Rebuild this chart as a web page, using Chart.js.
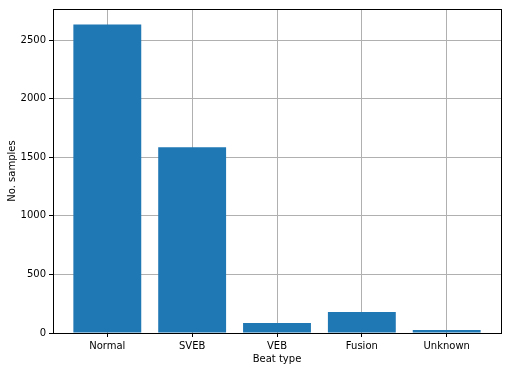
<!DOCTYPE html>
<html>
<head>
<meta charset="utf-8">
<script src="https://cdn.jsdelivr.net/npm/chart.js@4"></script>
<style>
  html, body { margin: 0; padding: 0; background: #fff; }
  #wrap { width: 507px; height: 371px; }
</style>
</head>
<body>
<div id="wrap"><canvas id="myChart"></canvas></div>
<script>
// data
var beatTypes = ['Normal', 'SVEB', 'VEB', 'Fusion', 'Unknown'];
var noSamples = [2634, 1585, 85, 179, 26];
var yTicks = [0, 500, 1000, 1500, 2000, 2500];

// box round the plot area, like matplotlib spines
var frame = {
    id: 'frame',
    afterDraw: function (chart) {
        var a = chart.chartArea, ctx = chart.ctx;
        ctx.save();
        ctx.strokeStyle = '#000';
        ctx.lineWidth = 1;
        ctx.strokeRect(Math.round(a.left) + 0.5, Math.round(a.top) + 0.5,
            Math.round(a.right - a.left), Math.round(a.bottom - a.top));
        ctx.restore();
    }
};

Chart.defaults.font.family = 'DejaVu Sans';
Chart.defaults.font.size = 10;
Chart.defaults.color = '#000';

var config = {
    type: 'bar',
    data: {
        datasets: [{
            label: 'No. samples',
            data: noSamples.map(function (v, i) { return { x: i, y: v }; }),
            backgroundColor: '#1f77b4',
            borderColor: '#1f77b4',
            borderWidth: 0,
            barPercentage: 0.8,
            categoryPercentage: 1
        }]
    },
    options: {
        responsive: true,
        maintainAspectRatio: false,
        animation: false,
        layout: { padding: { left: 6, top: 7, right: 6, bottom: 0 } },
        plugins: { legend: { display: false }, tooltip: { enabled: false } },
        scales: {
            x: {
                type: 'linear',
                min: -0.64,
                max: 4.64,
                offset: false,
                z: 1,
                afterBuildTicks: function (s) {
                    s.ticks = beatTypes.map(function (c, i) { return { value: i }; });
                },
                afterFit: function (s) { s.height = 38; },
                ticks: {
                    maxRotation: 0,
                    autoSkip: false,
                    padding: 3,
                    callback: function (v) { return beatTypes[v]; }
                },
                grid: { offset: false, color: '#b0b0b0', tickColor: '#000', tickLength: 4, lineWidth: 1 },
                border: { display: false },
                title: { display: true, text: 'Beat type', padding: { top: 2, bottom: 6 } }
            },
            y: {
                min: 0,
                max: 2766,
                z: 1,
                afterBuildTicks: function (s) {
                    s.ticks = yTicks.map(function (v) { return { value: v }; });
                },
                afterFit: function (s) { s.width = 47; },
                ticks: { padding: 3, callback: function (v) { return String(v); } },
                grid: { color: '#b0b0b0', tickColor: '#000', tickLength: 4, lineWidth: 1 },
                border: { display: false },
                title: { display: true, text: 'No. samples', padding: { top: 0, bottom: 4 } }
            }
        }
    },
    plugins: [frame]
};

var myChart = new Chart(document.getElementById('myChart'), config);
</script>
</body>
</html>
